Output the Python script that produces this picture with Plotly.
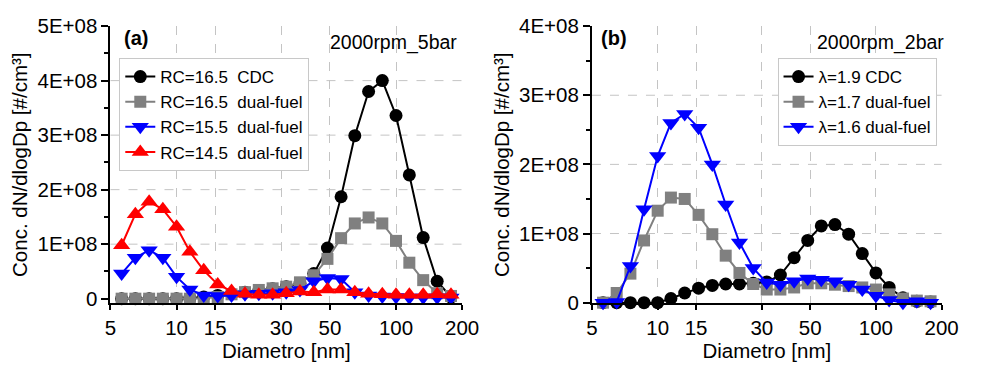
import numpy as np
import plotly.graph_objects as go

# Particle diameter bin centres [nm]
diam = [5.62, 6.49, 7.50, 8.66, 10.0, 11.5, 13.3, 15.4, 17.8, 20.5, 23.7, 27.4,
        31.6, 36.5, 42.2, 48.7, 56.2, 64.9, 75.0, 86.6, 100, 115, 133, 154, 178]

# Panel (a): 2000rpm_5bar, concentration in units of 1E+08 #/cm3
a_rc165_cdc = [0, 0, 0, 0, 0, 0.01, 0.03, 0.06, 0.09, 0.12, 0.15, 0.18, 0.22,
               0.28, 0.46, 0.93, 1.87, 2.99, 3.80, 4.00, 3.36, 2.27, 1.12, 0.32, 0.03]
a_rc165_df = [0, 0, 0, 0, 0, 0, 0.01, 0.03, 0.08, 0.12, 0.16, 0.19, 0.22,
              0.30, 0.43, 0.73, 1.11, 1.38, 1.49, 1.38, 1.06, 0.66, 0.34, 0.10, 0.05]
a_rc155_df = [0.46, 0.75, 0.89, 0.75, 0.40, 0.17, 0.06, 0.05, 0.06, 0.08, 0.09, 0.10,
              0.12, 0.16, 0.32, 0.38, 0.36, 0.12, 0.06, 0.04, 0.03, 0.02, 0.02, 0.02, 0.02]
a_rc145_df = [0.98, 1.55, 1.78, 1.64, 1.32, 0.86, 0.52, 0.26, 0.14, 0.09, 0.07, 0.07,
              0.10, 0.13, 0.12, 0.17, 0.17, 0.12, 0.09, 0.08, 0.07, 0.07, 0.07, 0.08, 0.07]

# Panel (b): 2000rpm_2bar
b_l19_cdc = [0, 0, 0, 0, 0, 0.06, 0.14, 0.21, 0.25, 0.27, 0.27, 0.28, 0.30,
             0.40, 0.65, 0.90, 1.11, 1.13, 0.99, 0.71, 0.43, 0.22, 0.07, 0.02, 0.01]
b_l17_df = [0, 0.14, 0.42, 0.90, 1.33, 1.52, 1.50, 1.27, 0.99, 0.68, 0.43, 0.27, 0.19,
            0.19, 0.22, 0.28, 0.28, 0.26, 0.24, 0.22, 0.19, 0.12, 0.06, 0.03, 0.02]
b_l16_df = [0, 0.01, 0.53, 1.35, 2.12, 2.60, 2.73, 2.53, 2.00, 1.42, 0.87, 0.50, 0.29,
            0.26, 0.31, 0.35, 0.33, 0.31, 0.26, 0.19, 0.10, 0.04, 0.00, 0.02, 0.00]

x_tickvals = [5, 10, 15, 30, 50, 100, 200]
x_gridvals = [10, 15, 30, 50, 100]
a_ytick = [0, 1e8, 2e8, 3e8, 4e8, 5e8]
a_ytext = ["0", "1E+08", "2E+08", "3E+08", "4E+08", "5E+08"]
b_ytick = [0, 1e8, 2e8, 3e8, 4e8]
b_ytext = ["0", "1E+08", "2E+08", "3E+08", "4E+08"]

SCALE = 1e8
FONT = "Liberation Sans, Arial, sans-serif"
W, H = 984, 366

fig = go.Figure()

series_a = [
    ("RC=16.5\u00a0\u00a0CDC", a_rc165_cdc, "black", "circle", 13),
    ("RC=16.5\u00a0\u00a0dual-fuel", a_rc165_df, "#808080", "square", 12),
    ("RC=15.5\u00a0\u00a0dual-fuel", a_rc155_df, "#0000ff", "triangle-down", 15),
    ("RC=14.5\u00a0\u00a0dual-fuel", a_rc145_df, "#ff0000", "triangle-up", 15),
]
series_b = [
    ("\u03bb=1.9 CDC", b_l19_cdc, "black", "circle", 13),
    ("\u03bb=1.7 dual-fuel", b_l17_df, "#808080", "square", 12),
    ("\u03bb=1.6 dual-fuel", b_l16_df, "#0000ff", "triangle-down", 15),
]

for name, vals, col, sym, sz in series_a:
    fig.add_trace(go.Scatter(
        x=diam, y=np.array(vals) * SCALE, name=name, mode="lines+markers",
        line=dict(color=col, width=2), marker=dict(color=col, symbol=sym, size=sz),
        xaxis="x", yaxis="y", legend="legend", cliponaxis=False))

for name, vals, col, sym, sz in series_b:
    fig.add_trace(go.Scatter(
        x=diam, y=np.array(vals) * SCALE, name=name, mode="lines+markers",
        line=dict(color=col, width=2), marker=dict(color=col, symbol=sym, size=sz),
        xaxis="x2", yaxis="y2", legend="legend2", cliponaxis=False))

# plot-area placement in pixels
ax_a = dict(left=107, right=467)
ax_b = dict(left=600, right=958)
top_px, bot_px = 15, 310
ydom = [1 - bot_px / H, 1 - top_px / H]

tickfont = dict(family=FONT, size=20.5, color="black")
titlefont = dict(family=FONT, size=20.5, color="black")

def xaxis_cfg(dom, anchor):
    return dict(
        type="log", range=[np.log10(5), np.log10(200)], domain=dom, anchor=anchor,
        tickmode="array", tickvals=x_tickvals, ticktext=[str(v) for v in x_tickvals],
        ticks="outside", ticklen=5, tickwidth=1.5, tickcolor="black",
        showline=True, linecolor="black", linewidth=2, showgrid=False, zeroline=False,
        tickfont=tickfont, title=dict(text="Diametro [nm]", font=titlefont, standoff=2),
        minor=dict(tickvals=x_gridvals, ticks="", showgrid=True,
                   gridcolor="#c4c4c4", griddash="dash", gridwidth=1))

def yaxis_cfg(rng, tv, tt, anchor):
    return dict(
        range=rng, domain=ydom, anchor=anchor,
        tickmode="array", tickvals=tv, ticktext=tt,
        ticks="outside", ticklen=7, tickwidth=1.5, tickcolor="black",
        showline=True, linecolor="black", linewidth=2, showgrid=False, zeroline=False,
        tickfont=tickfont,
        title=dict(text="Conc. dN/dlogDp [#/cm\u00b3]", font=titlefont, standoff=4),
        minor=dict(dtick=0.5e8, ticks="outside", ticklen=4, tickwidth=1.5,
                   tickcolor="black", showgrid=False))

legend_font = dict(family=FONT, size=17, color="black")

fig.update_layout(
    width=W, height=H, margin=dict(l=0, r=0, t=0, b=0),
    paper_bgcolor="white", plot_bgcolor="white",
    font=dict(family=FONT, color="black"),
    xaxis=xaxis_cfg([ax_a["left"] / W, ax_a["right"] / W], "y"),
    xaxis2=xaxis_cfg([ax_b["left"] / W, ax_b["right"] / W], "y2"),
    yaxis=yaxis_cfg([-0.086e8, 5e8], a_ytick, a_ytext, "x"),
    yaxis2=yaxis_cfg([-0.01e8, 4e8], b_ytick, b_ytext, "x2"),
    legend=dict(x=116 / W, y=1 - 49 / H, xanchor="left", yanchor="top",
                bgcolor="white", bordercolor="#c8c8c8", borderwidth=1,
                font=legend_font, tracegroupgap=0, itemwidth=30),
    legend2=dict(x=790 / W, y=1 - 49 / H, xanchor="left", yanchor="top",
                 bgcolor="white", bordercolor="#c8c8c8", borderwidth=1,
                 font=legend_font, tracegroupgap=0, itemwidth=30),
    showlegend=True,
)

# dashed horizontal grid lines at the intermediate major values
grid_style = dict(color="#c4c4c4", width=1, dash="dash")
for yv in a_ytick[1:-1]:
    fig.add_shape(type="line", xref="x domain", yref="y", x0=0, x1=1, y0=yv, y1=yv,
                  line=grid_style, layer="below")
for yv in b_ytick[1:-1]:
    fig.add_shape(type="line", xref="x2 domain", yref="y2", x0=0, x1=1, y0=yv, y1=yv,
                  line=grid_style, layer="below")

# panel labels and operating points
fig.add_annotation(text="<b>(a)</b>", xref="paper", yref="paper",
                   x=119 / W, y=1 - 28 / H, xanchor="left", yanchor="middle",
                   showarrow=False, font=dict(family=FONT, size=20))
fig.add_annotation(text="2000rpm_5bar", xref="paper", yref="paper",
                   x=464 / W, y=1 - 32 / H, xanchor="right", yanchor="middle",
                   showarrow=False, font=dict(family=FONT, size=19.5))
fig.add_annotation(text="<b>(b)</b>", xref="paper", yref="paper",
                   x=607 / W, y=1 - 28 / H, xanchor="left", yanchor="middle",
                   showarrow=False, font=dict(family=FONT, size=20))
fig.add_annotation(text="2000rpm_2bar", xref="paper", yref="paper",
                   x=963 / W, y=1 - 32 / H, xanchor="right", yanchor="middle",
                   showarrow=False, font=dict(family=FONT, size=19.5))

fig.write_html("out.html")
